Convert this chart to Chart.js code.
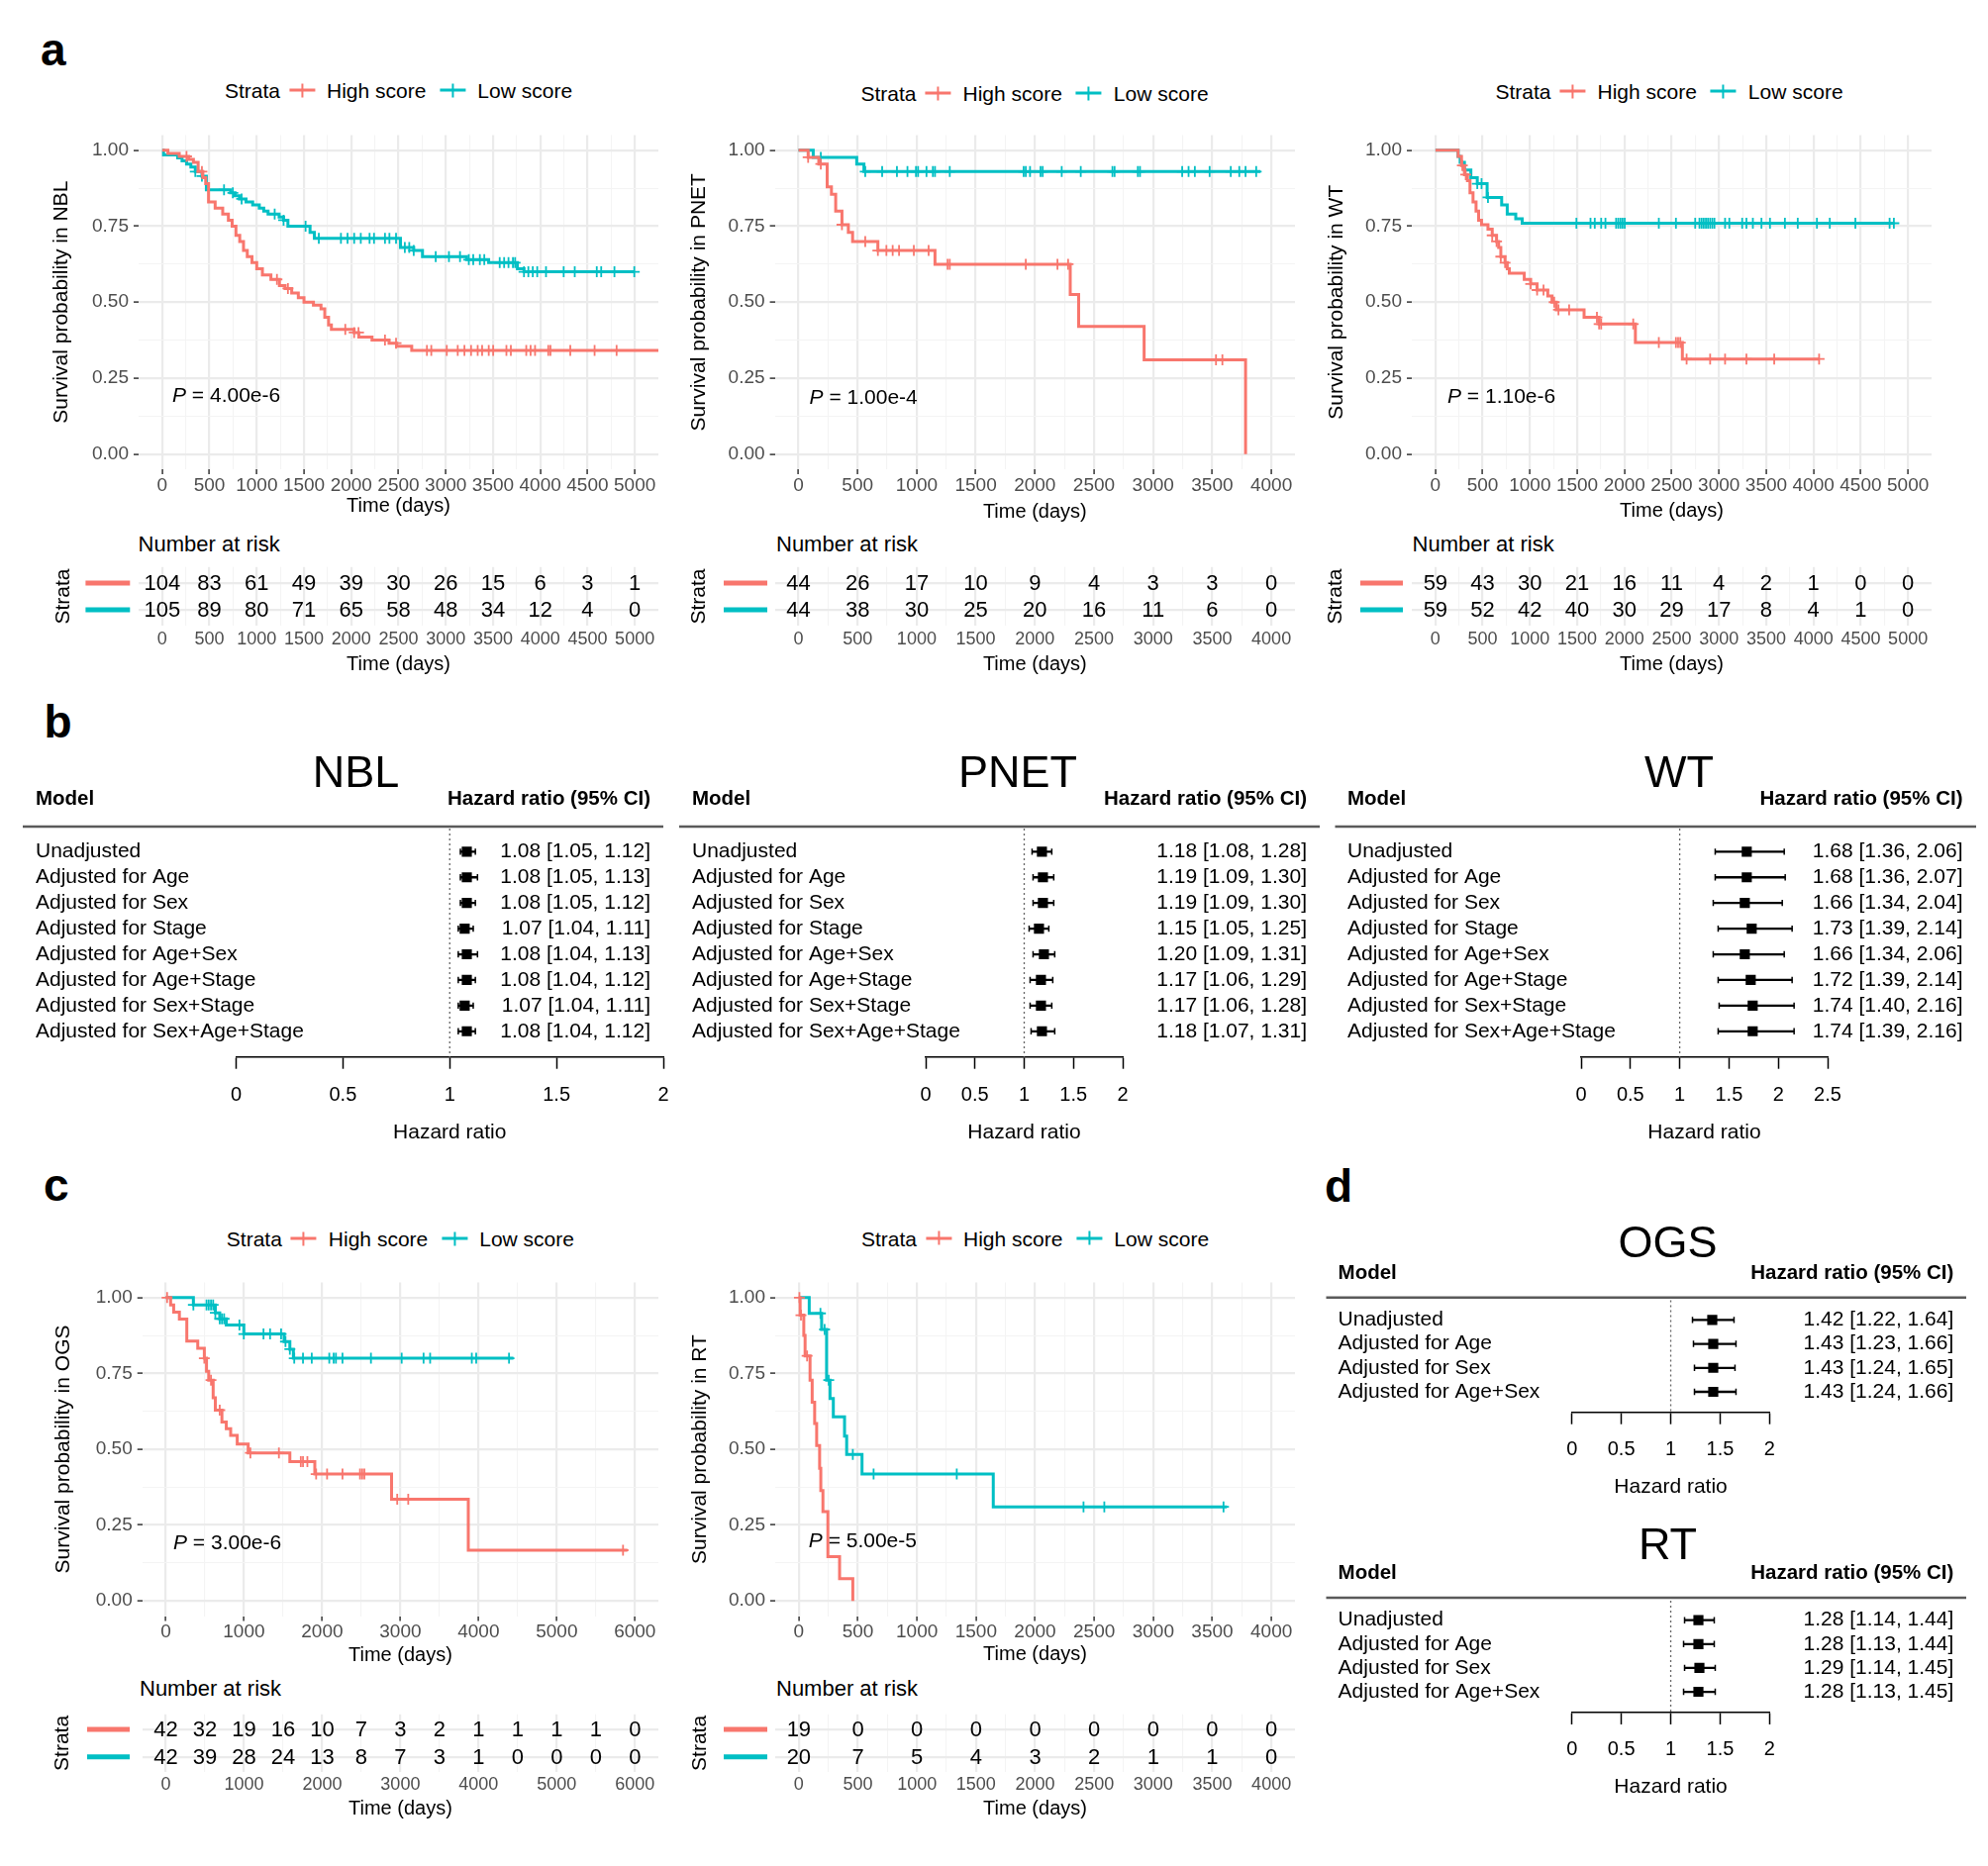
<!DOCTYPE html>
<html>
<head>
<meta charset="utf-8">
<script src="https://cdn.jsdelivr.net/npm/chart.js@4.4.1/dist/chart.umd.min.js"></script>
<style>
  html, body { margin: 0; padding: 0; background: #fff; }
  body { width: 2008px; height: 1885px; position: relative; overflow: hidden;
         font-family: "Liberation Sans", Arial, Helvetica, sans-serif; color: #000; }
  .box { position: absolute; }
  .box canvas { display: block; }
  .txt { position: absolute; white-space: nowrap; line-height: 1; transform: translateY(-50%); }
  .letter { position: absolute; font-weight: bold; font-size: 46px; line-height: 46px; }
  .legend { position: absolute; display: flex; align-items: center; white-space: nowrap;
            transform: translate(-50%, -50%); font-size: 21px; line-height: 1; }
  .key { display: inline-block; width: 26px; height: 14px; position: relative; margin: 0 12px 0 9px; }
  .key.k2 { margin-left: 14px; }
  .key::before { content: ''; position: absolute; left: 0; right: 0; top: 5.5px; height: 3px; background: var(--c); }
  .key::after { content: ''; position: absolute; left: 12px; width: 2px; top: 0; bottom: 0; background: var(--c); }
</style>
</head>
<body>
<script>
// ── Data ──────────────────────────────────────────────────────────────
const strataNames = ['High score', 'Low score'];
const HIGH = '#F8766D', LOW = '#00BFC4';
const FONT = '"Liberation Sans", Arial, Helvetica, sans-serif';

const survTicks = [0, 0.25, 0.5, 0.75, 1];

// NBL
const nblTimes     = [0, 500, 1000, 1500, 2000, 2500, 3000, 3500, 4000, 4500, 5000];
const nblRiskHigh  = [104, 83, 61, 49, 39, 30, 26, 15, 6, 3, 1];
const nblRiskLow   = [105, 89, 80, 71, 65, 58, 48, 34, 12, 4, 0];
const nblHighT = [0, 60, 180, 280, 330, 380, 430, 460, 490, 560, 640, 700, 740, 780, 820, 860, 900, 950, 1000, 1060, 1150, 1240, 1300, 1370, 1440, 1500, 1600, 1680, 1720, 1760, 1790, 2030, 2080, 2220, 2400, 2480, 2640, 5300];
const nblHighS = [1.00, 0.99, 0.98, 0.97, 0.96, 0.93, 0.91, 0.89, 0.83, 0.81, 0.79, 0.77, 0.75, 0.72, 0.70, 0.67, 0.65, 0.63, 0.61, 0.59, 0.575, 0.555, 0.545, 0.53, 0.515, 0.50, 0.49, 0.478, 0.45, 0.425, 0.41, 0.40, 0.385, 0.375, 0.365, 0.355, 0.341, 0.341];
const nblHighCens = [257, 420, 1214, 1330, 1937, 2031, 2077, 2357, 2474, 2801, 2847, 3011, 3127, 3198, 3268, 3338, 3385, 3455, 3502, 3642, 3689, 3852, 3898, 3945, 4085, 4108, 4318, 4575, 4808];
const nblLowT = [0, 14, 163, 210, 257, 303, 350, 420, 467, 723, 770, 817, 887, 957, 1027, 1074, 1120, 1237, 1284, 1330, 1564, 1610, 2521, 2661, 2754, 3221, 3454, 3758, 3828, 4995];
const nblLowS = [1.00, 0.985, 0.975, 0.965, 0.955, 0.945, 0.93, 0.915, 0.87, 0.86, 0.85, 0.84, 0.83, 0.82, 0.81, 0.80, 0.79, 0.78, 0.77, 0.75, 0.73, 0.71, 0.68, 0.67, 0.65, 0.64, 0.63, 0.61, 0.60, 0.60];
const nblLowCens = [350, 420, 654, 747, 840, 1190, 1284, 1517, 1657, 1891, 1961, 2031, 2101, 2194, 2241, 2357, 2404, 2474, 2567, 2614, 2661, 2894, 3034, 3151, 3244, 3291, 3361, 3408, 3571, 3618, 3664, 3711, 3734, 3828, 3874, 3921, 3968, 4061, 4248, 4365, 4598, 4645, 4785, 4995];

// PNET
const pnetTimes    = [0, 500, 1000, 1500, 2000, 2500, 3000, 3500, 4000];
const pnetRiskHigh = [44, 26, 17, 10, 9, 4, 3, 3, 0];
const pnetRiskLow  = [44, 38, 30, 25, 20, 16, 11, 6, 0];
const pnetHighT = [0, 82, 172, 243, 279, 315, 368, 422, 458, 672, 1155, 2299, 2370, 2924, 3782];
const pnetHighS = [1.00, 0.977, 0.955, 0.88, 0.855, 0.80, 0.755, 0.73, 0.70, 0.67, 0.625, 0.525, 0.42, 0.31, 0.00];
const pnetHighCens = [82, 189, 368, 565, 672, 744, 797, 851, 976, 1101, 1262, 1280, 1923, 2191, 2281, 3532, 3586];
const pnetLowT = [0, 125, 493, 554, 3908];
const pnetLowS = [1.00, 0.977, 0.955, 0.93, 0.93];
const pnetLowCens = [189, 565, 708, 833, 922, 994, 1012, 1083, 1137, 1155, 1280, 1905, 1923, 1959, 2048, 2066, 2227, 2388, 2656, 2674, 2871, 2889, 3246, 3300, 3353, 3478, 3657, 3729, 3782, 3872];

// WT
const wtTimes    = [0, 500, 1000, 1500, 2000, 2500, 3000, 3500, 4000, 4500, 5000];
const wtRiskHigh = [59, 43, 30, 21, 16, 11, 4, 2, 1, 0, 0];
const wtRiskLow  = [59, 52, 42, 40, 30, 29, 17, 8, 4, 1, 0];
const wtHighT = [0, 240, 276, 307, 339, 366, 398, 430, 457, 488, 556, 601, 647, 669, 692, 737, 760, 782, 940, 1008, 1076, 1189, 1234, 1279, 1573, 1732, 2116, 2613, 4060];
const wtHighS = [1.00, 0.98, 0.95, 0.92, 0.90, 0.86, 0.83, 0.80, 0.77, 0.755, 0.74, 0.72, 0.70, 0.68, 0.65, 0.63, 0.61, 0.595, 0.575, 0.56, 0.54, 0.52, 0.50, 0.475, 0.45, 0.428, 0.367, 0.313, 0.313];
const wtHighCens = [285, 321, 601, 647, 692, 737, 1008, 1076, 1144, 1257, 1302, 1415, 1709, 1732, 1754, 2093, 2364, 2545, 2568, 2591, 2658, 2907, 3065, 3291, 3585, 4060];
const wtLowT = [0, 240, 262, 307, 375, 443, 547, 701, 760, 850, 918, 4851];
const wtLowS = [1.00, 0.98, 0.96, 0.935, 0.91, 0.89, 0.845, 0.82, 0.79, 0.775, 0.76, 0.76];
const wtLowCens = [443, 488, 556, 1492, 1641, 1686, 1754, 1799, 1912, 1935, 1958, 1980, 2003, 2364, 2545, 2749, 2794, 2817, 2839, 2862, 2884, 2907, 2930, 2952, 3065, 3110, 3246, 3291, 3359, 3450, 3540, 3698, 3834, 4037, 4173, 4444, 4806, 4851];

// OGS
const ogsTicks    = [0, 1000, 2000, 3000, 4000, 5000, 6000];
const ogsTimes    = [0, 500, 1000, 1500, 2000, 2500, 3000, 3500, 4000, 4500, 5000, 5500, 6000];
const ogsRiskHigh = [42, 32, 19, 16, 10, 7, 3, 2, 1, 1, 1, 1, 0];
const ogsRiskLow  = [42, 39, 28, 24, 13, 8, 7, 3, 1, 0, 0, 0, 0];
const ogsHighT = [0, 62, 101, 174, 269, 409, 493, 521, 549, 606, 634, 718, 774, 830, 914, 1054, 1587, 1906, 2888, 3869, 5904];
const ogsHighS = [1.00, 0.976, 0.952, 0.929, 0.857, 0.833, 0.80, 0.757, 0.728, 0.67, 0.629, 0.59, 0.568, 0.546, 0.517, 0.488, 0.459, 0.418, 0.335, 0.167, 0.167];
const ogsHighCens = [17, 493, 578, 690, 1082, 1447, 1727, 1755, 1811, 1923, 2063, 2260, 2484, 2512, 2540, 2960, 3101, 5848];
const ogsLowT = [0, 353, 634, 690, 774, 998, 1514, 1587, 1632, 4446];
const ogsLowS = [1.00, 0.976, 0.95, 0.93, 0.91, 0.88, 0.855, 0.83, 0.80, 0.80];
const ogsLowCens = [353, 521, 549, 578, 606, 634, 690, 718, 746, 942, 998, 1250, 1334, 1475, 1531, 1587, 1643, 1755, 1867, 2091, 2147, 2176, 2260, 2624, 3017, 3297, 3381, 3914, 3970, 4390];

// RT
const rtTimes    = [0, 500, 1000, 1500, 2000, 2500, 3000, 3500, 4000];
const rtRiskHigh = [19, 0, 0, 0, 0, 0, 0, 0, 0];
const rtRiskLow  = [20, 7, 5, 4, 3, 2, 1, 1, 0];
const rtHighT = [0, 11, 42, 53, 95, 113, 134, 151, 176, 186, 204, 246, 345, 457];
const rtHighS = [1.00, 0.942, 0.875, 0.808, 0.728, 0.655, 0.585, 0.512, 0.437, 0.364, 0.294, 0.146, 0.073, 0.00];
const rtHighCens = [5, 18, 70];
const rtLowT = [0, 88, 193, 235, 264, 292, 387, 405, 535, 1646, 3624];
const rtLowS = [1.00, 0.948, 0.895, 0.728, 0.667, 0.607, 0.543, 0.483, 0.418, 0.31, 0.31];
const rtLowCens = [183, 218, 253, 457, 633, 1337, 2410, 2586, 3595];

// Forest plots
const models8 = ['Unadjusted', 'Adjusted for Age', 'Adjusted for Sex', 'Adjusted for Stage', 'Adjusted for Age+Sex', 'Adjusted for Age+Stage', 'Adjusted for Sex+Stage', 'Adjusted for Sex+Age+Stage'];
const models4 = ['Unadjusted', 'Adjusted for Age', 'Adjusted for Sex', 'Adjusted for Age+Sex'];
const hrTicks2  = [0, 0.5, 1, 1.5, 2];
const hrTicks25 = [0, 0.5, 1, 1.5, 2, 2.5];
const nblHR  = [1.08, 1.08, 1.08, 1.07, 1.08, 1.08, 1.07, 1.08];
const nblLo  = [1.05, 1.05, 1.05, 1.04, 1.04, 1.04, 1.04, 1.04];
const nblHi  = [1.12, 1.13, 1.12, 1.11, 1.13, 1.12, 1.11, 1.12];
const pnetHR = [1.18, 1.19, 1.19, 1.15, 1.20, 1.17, 1.17, 1.18];
const pnetLo = [1.08, 1.09, 1.09, 1.05, 1.09, 1.06, 1.06, 1.07];
const pnetHi = [1.28, 1.30, 1.30, 1.25, 1.31, 1.29, 1.28, 1.31];
const wtHR   = [1.68, 1.68, 1.66, 1.73, 1.66, 1.72, 1.74, 1.74];
const wtLo   = [1.36, 1.36, 1.34, 1.39, 1.34, 1.39, 1.40, 1.39];
const wtHi   = [2.06, 2.07, 2.04, 2.14, 2.06, 2.14, 2.16, 2.16];
const ogsHR  = [1.42, 1.43, 1.43, 1.43];
const ogsLo  = [1.22, 1.23, 1.24, 1.24];
const ogsHi  = [1.64, 1.66, 1.65, 1.66];
const rtHR   = [1.28, 1.28, 1.29, 1.28];
const rtLo   = [1.14, 1.13, 1.14, 1.13];
const rtHi   = [1.44, 1.44, 1.45, 1.45];
const REF_HR = 1;

// ── Helpers ───────────────────────────────────────────────────────────
function survAt(times, surv, t) {
    let v = surv[0];
    for (let i = 0; i < times.length; i++) if (times[i] <= t) v = surv[i];
    return v;
}
// major breaks plus the ggplot-style minor break between each pair
function withMinor(major) {
    const out = [];
    major.forEach((v, i) => {
        out.push({ value: v, isMajor: true });
        if (i < major.length - 1) out.push({ value: (v + major[i + 1]) / 2, isMajor: false });
    });
    return out;
}
const isMajor = c => !!(c.tick && c.tick.isMajor);

function makeCanvas(L, T, W, H) {
    const d = document.createElement('div');
    d.className = 'box';
    d.style.cssText = `left:${L}px;top:${T}px;width:${W}px;height:${H}px`;
    const c = document.createElement('canvas');
    c.width = W; c.height = H;
    c.style.width = W + 'px'; c.style.height = H + 'px';
    d.appendChild(c);
    document.body.appendChild(d);
    return c;
}
function addText(html, x, y, size, extra) {
    const d = document.createElement('div');
    d.className = 'txt';
    d.innerHTML = html;
    d.style.left = x + 'px'; d.style.top = y + 'px'; d.style.fontSize = size + 'px';
    if (extra) Object.assign(d.style, extra);
    document.body.appendChild(d);
}
function addLetter(ch, x, y) {
    const d = document.createElement('div');
    d.className = 'letter';
    d.textContent = ch;
    d.style.left = x + 'px'; d.style.top = y + 'px';
    document.body.appendChild(d);
}
function addLegend(cx, cy) {
    const d = document.createElement('div');
    d.className = 'legend';
    d.style.left = cx + 'px'; d.style.top = cy + 'px';
    d.innerHTML = 'Strata<span class="key" style="--c:' + HIGH + '"></span>' + strataNames[0] +
                  '<span class="key k2" style="--c:' + LOW + '"></span>' + strataNames[1];
    document.body.appendChild(d);
}

Chart.defaults.font.family = FONT;
Chart.defaults.color = '#000';

const kmGrid = {
    color: c => isMajor(c) ? '#EBEBEB' : '#F4F4F4',
    lineWidth: c => isMajor(c) ? 2.2 : 1.1,
    tickLength: 5,
    tickWidth: 1.5,
    tickColor: c => isMajor(c) ? '#333333' : 'rgba(0,0,0,0)'
};

// ── Kaplan–Meier panel ────────────────────────────────────────────────
function kmChart(k) {
    const [L, T, W, H] = k.box;
    const [pl, pt, pr, pb] = k.panel;
    const canvas = makeCanvas(L, T, W, H);
    const datasets = [];
    k.curves.forEach(cv => {
        datasets.push({
            data: cv.t.map((t, i) => ({ x: t, y: cv.s[i] })),
            showLine: true, stepped: true,
            borderColor: cv.color, borderWidth: 3, pointRadius: 0
        });
        datasets.push({
            data: cv.cens.map(t => ({ x: t, y: survAt(cv.t, cv.s, t) })),
            showLine: false, pointStyle: 'cross', pointRadius: 5.5,
            pointBorderWidth: 1.8, pointBorderColor: cv.color, pointBackgroundColor: cv.color
        });
    });
    new Chart(canvas, {
        type: 'scatter',
        data: { datasets },
        options: {
            responsive: false, animation: false, events: [],
            layout: { padding: { left: 0, top: pt - T, right: L + W - pr, bottom: 0 } },
            plugins: { legend: { display: false }, tooltip: { enabled: false } },
            scales: {
                x: {
                    type: 'linear', min: k.xMin, max: k.xMax, offset: false,
                    afterBuildTicks: s => { s.ticks = withMinor(k.xTicks); },
                    afterFit: s => { s.height = T + H - pb; },
                    grid: kmGrid,
                    border: { display: false },
                    ticks: { autoSkip: false, maxRotation: 0, padding: 0, color: '#4D4D4D', font: { size: 19 },
                             callback: (v, i, ts) => ts[i].isMajor ? String(v) : '' },
                    title: { display: true, text: 'Time (days)', font: { size: 20 }, color: '#000',
                             padding: { top: 0, bottom: k.xTitlePad } }
                },
                y: {
                    type: 'linear', min: -0.05, max: 1.05, offset: false,
                    afterBuildTicks: s => { s.ticks = withMinor(survTicks); },
                    afterFit: s => { s.width = pl - L; },
                    grid: kmGrid,
                    border: { display: false },
                    ticks: { autoSkip: false, padding: 5, color: '#4D4D4D', font: { size: 19 },
                             callback: (v, i, ts) => ts[i].isMajor ? v.toFixed(2) : '' },
                    title: { display: true, text: k.yTitle, font: { size: 21 }, color: '#000',
                             padding: { top: k.yTitlePad, bottom: 0 } }
                }
            }
        }
    });
}

// ── Number-at-risk table ──────────────────────────────────────────────
function riskChart(r) {
    const [L, T, W, H] = r.box;
    const [al, at, ar, ab] = r.area;
    const canvas = makeCanvas(L, T, W, H);
    const rowColors = [HIGH, LOW];
    const riskText = {
        id: 'riskText',
        afterDraw(chart) {
            const { ctx, scales: { x, y } } = chart;
            ctx.save();
            ctx.font = '22px ' + FONT;
            ctx.textAlign = 'center';
            ctx.textBaseline = 'middle';
            ctx.fillStyle = '#000';
            r.rows.forEach((row, ri) => {
                const py = y.getPixelForValue(ri + 1);
                row.forEach((n, i) => ctx.fillText(String(n), x.getPixelForValue(r.times[i]), py + 1));
                ctx.strokeStyle = rowColors[ri];
                ctx.lineWidth = 5;
                ctx.beginPath();
                ctx.moveTo(r.keyX[0] - L, py);
                ctx.lineTo(r.keyX[1] - L, py);
                ctx.stroke();
            });
            ctx.restore();
        }
    };
    new Chart(canvas, {
        type: 'scatter',
        data: { datasets: [] },
        plugins: [riskText],
        options: {
            responsive: false, animation: false, events: [],
            layout: { padding: { left: 0, top: at - T, right: L + W - ar, bottom: 0 } },
            plugins: { legend: { display: false }, tooltip: { enabled: false } },
            scales: {
                x: {
                    type: 'linear', min: r.xMin, max: r.xMax, offset: false,
                    afterBuildTicks: s => { s.ticks = withMinor(r.xTicks); },
                    afterFit: s => { s.height = T + H - ab; },
                    grid: { color: c => isMajor(c) ? '#EBEBEB' : '#F4F4F4', lineWidth: c => isMajor(c) ? 2.2 : 1.1, drawTicks: false },
                    border: { display: false },
                    ticks: { autoSkip: false, maxRotation: 0, padding: r.tickPad, color: '#4D4D4D', font: { size: 18 },
                             callback: (v, i, ts) => ts[i].isMajor ? String(v) : '' },
                    title: { display: true, text: 'Time (days)', font: { size: 20 }, color: '#000',
                             padding: { top: 0, bottom: r.xTitlePad } }
                },
                y: {
                    type: 'linear', min: r.yMin, max: r.yMax, reverse: true, offset: false,
                    afterBuildTicks: s => { s.ticks = [{ value: 1 }, { value: 2 }]; },
                    afterFit: s => { s.width = al - L; },
                    grid: { color: '#EBEBEB', lineWidth: 2.2, drawTicks: false },
                    border: { display: false },
                    ticks: { display: false },
                    title: { display: true, text: 'Strata', font: { size: 21 }, color: '#000',
                             padding: { top: r.yTitlePad, bottom: 0 } }
                }
            }
        }
    });
}

// ── Forest plot ───────────────────────────────────────────────────────
function forestChart(f) {
    const [L, T, W, H] = f.box;
    const [al, at, ar, ab] = f.area;
    const canvas = makeCanvas(L, T, W, H);
    const rows = f.models.map((m, i) => i + 1);
    const ciText = i => f.hr[i].toFixed(2) + ' [' + f.lo[i].toFixed(2) + ', ' + f.hi[i].toFixed(2) + ']';
    const forestText = {
        id: 'forestText',
        beforeDatasetsDraw(chart) {
            const { ctx, chartArea, scales: { x } } = chart;
            const px = x.getPixelForValue(REF_HR);
            ctx.save();
            ctx.setLineDash([2, 3]);
            ctx.strokeStyle = '#666';
            ctx.lineWidth = 1.3;
            ctx.beginPath();
            ctx.moveTo(px, chartArea.top);
            ctx.lineTo(px, chartArea.bottom);
            ctx.stroke();
            ctx.restore();
        },
        afterDraw(chart) {
            const { ctx, scales: { y } } = chart;
            ctx.save();
            ctx.fillStyle = '#000';
            ctx.textBaseline = 'middle';
            ctx.font = '21px ' + FONT;
            f.models.forEach((m, i) => {
                const py = y.getPixelForValue(rows[i]);
                ctx.textAlign = 'left';
                ctx.fillText(m, f.labelX - L, py);
                ctx.textAlign = 'right';
                ctx.fillText(ciText(i), f.textRight - L, py);
            });
            ctx.font = 'bold 20.5px ' + FONT;
            ctx.textAlign = 'left';
            ctx.fillText('Model', f.labelX - L, f.headY - T);
            ctx.textAlign = 'right';
            ctx.fillText('Hazard ratio (95% CI)', f.textRight - L, f.headY - T);
            ctx.font = '45px ' + FONT;
            ctx.textAlign = 'center';
            ctx.fillText(f.title, f.titleX - L, f.titleY - T);
            ctx.strokeStyle = '#5a5a5a';
            ctx.lineWidth = 2.5;
            ctx.beginPath();
            ctx.moveTo(f.rule[0] - L, f.rule[2] - T);
            ctx.lineTo(f.rule[1] - L, f.rule[2] - T);
            ctx.stroke();
            ctx.restore();
        }
    };
    new Chart(canvas, {
        type: 'scatter',
        data: {
            datasets: [
                { data: rows.map((r, i) => ({ x: f.hr[i], y: r })),
                  pointStyle: 'rect', pointRadius: 7.2, pointBackgroundColor: '#000', pointBorderWidth: 0 },
                { data: rows.map((r, i) => ({ x: f.lo[i], y: r })).concat(rows.map((r, i) => ({ x: f.hi[i], y: r }))),
                  pointStyle: 'line', pointRotation: 90, pointRadius: 3.2, pointBorderWidth: 1.5, pointBorderColor: '#000' },
                { type: 'bar', indexAxis: 'y', data: rows.map((r, i) => ({ y: r, x: [f.lo[i], f.hi[i]] })),
                  backgroundColor: '#000', barThickness: 1.6, borderWidth: 0 }
            ]
        },
        plugins: [forestText],
        options: {
            responsive: false, animation: false, events: [],
            layout: { padding: { left: al - L, top: at - T, right: L + W - ar, bottom: 0 } },
            plugins: { legend: { display: false }, tooltip: { enabled: false } },
            scales: {
                x: {
                    type: 'linear', min: 0, max: f.ticks[f.ticks.length - 1], offset: false,
                    afterBuildTicks: s => { s.ticks = f.ticks.map(v => ({ value: v })); },
                    afterFit: s => { s.height = T + H - ab; },
                    grid: { offset: false, drawOnChartArea: false, drawTicks: true, tickLength: 12, tickWidth: 1.5, tickColor: '#000' },
                    border: { display: true, color: '#000', width: 1.5 },
                    ticks: { autoSkip: false, maxRotation: 0, padding: f.tickPad, color: '#000', font: { size: 20 },
                             callback: v => String(v) },
                    title: { display: true, text: 'Hazard ratio', font: { size: 21 }, color: '#000',
                             padding: { top: 0, bottom: f.titlePad } }
                },
                y: { type: 'linear', display: false, min: f.yMin, max: f.yMax, reverse: true,
                     offset: false, grid: { offset: false } }
            }
        }
    });
}

// ── Panel a ───────────────────────────────────────────────────────────
addLetter('a', 41, 27);
kmChart({ box: [30, 120, 650, 410], panel: [140, 136.5, 665, 474], xMin: -250, xMax: 5250, xTicks: nblTimes,
          yTitle: 'Survival probability in NBL', yTitlePad: 19.9, xTitlePad: 6.4,
          curves: [{ t: nblHighT, s: nblHighS, cens: nblHighCens, color: HIGH },
                   { t: nblLowT, s: nblLowS, cens: nblLowCens, color: LOW }] });
kmChart({ box: [680, 120, 650, 410], panel: [782.6, 136.5, 1308, 474], xMin: -200, xMax: 4200, xTicks: pnetTimes,
          yTitle: 'Survival probability in PNET', yTitlePad: 13.9, xTitlePad: 1,
          curves: [{ t: pnetHighT, s: pnetHighS, cens: pnetHighCens, color: HIGH },
                   { t: pnetLowT, s: pnetLowS, cens: pnetLowCens, color: LOW }] });
kmChart({ box: [1330, 120, 670, 410], panel: [1426, 136.5, 1951, 474], xMin: -250, xMax: 5250, xTicks: wtTimes,
          yTitle: 'Survival probability in WT', yTitlePad: 7.4, xTitlePad: 2,
          curves: [{ t: wtHighT, s: wtHighS, cens: wtHighCens, color: HIGH },
                   { t: wtLowT, s: wtLowS, cens: wtLowCens, color: LOW }] });
addLegend(402.5, 91);
addLegend(1045, 94);
addLegend(1686, 92);
addText('<i>P</i> = 4.00e-6', 174, 398, 21);
addText('<i>P</i> = 1.00e-4', 817.6, 400, 21);
addText('<i>P</i> = 1.10e-6', 1462, 399, 21);

addText('Number at risk', 139.6, 550, 22);
addText('Number at risk', 784, 550, 22);
addText('Number at risk', 1426.6, 550, 22);
riskChart({ box: [30, 562, 650, 125], area: [140, 572.8, 665, 632.2], xMin: -250, xMax: 5250, xTicks: nblTimes,
            times: nblTimes, rows: [nblRiskHigh, nblRiskLow], yMin: 0.4, yMax: 2.6,
            tickPad: 3, xTitlePad: 4, yTitlePad: 21.4, keyX: [86.4, 131.3] });
riskChart({ box: [680, 562, 650, 125], area: [782.6, 572.8, 1308, 632.2], xMin: -200, xMax: 4200, xTicks: pnetTimes,
            times: pnetTimes, rows: [pnetRiskHigh, pnetRiskLow], yMin: 0.4, yMax: 2.6,
            tickPad: 3, xTitlePad: 4, yTitlePad: 13.4, keyX: [731, 775] });
riskChart({ box: [1330, 562, 670, 125], area: [1426, 572.8, 1951, 632.2], xMin: -250, xMax: 5250, xTicks: wtTimes,
            times: wtTimes, rows: [wtRiskHigh, wtRiskLow], yMin: 0.4, yMax: 2.6,
            tickPad: 3, xTitlePad: 4, yTitlePad: 7.1, keyX: [1374, 1417] });

// ── Panel b ───────────────────────────────────────────────────────────
addLetter('b', 44.5, 705.6);
forestChart({ box: [15, 750, 680, 410], area: [238.5, 837, 670, 1067.7], ticks: hrTicks2, yMin: 0.1, yMax: 9.0,
              models: models8, hr: nblHR, lo: nblLo, hi: nblHi, labelX: 36, textRight: 657, headY: 807,
              title: 'NBL', titleX: 359.6, titleY: 783, rule: [23, 670, 835], tickPad: 14.3, titlePad: 3.4 });
forestChart({ box: [685, 750, 660, 410], area: [935, 837, 1134, 1067.7], ticks: hrTicks2, yMin: 0.1, yMax: 9.0,
              models: models8, hr: pnetHR, lo: pnetLo, hi: pnetHi, labelX: 699, textRight: 1320, headY: 807,
              title: 'PNET', titleX: 1028, titleY: 783, rule: [686, 1333, 835], tickPad: 14.3, titlePad: 3.4 });
forestChart({ box: [1345, 750, 660, 410], area: [1597, 837, 1846, 1067.7], ticks: hrTicks25, yMin: 0.1, yMax: 9.0,
              models: models8, hr: wtHR, lo: wtLo, hi: wtHi, labelX: 1361, textRight: 1982.5, headY: 807,
              title: 'WT', titleX: 1696, titleY: 783, rule: [1348.5, 1996, 835], tickPad: 14.3, titlePad: 3.4 });

// ── Panel c ───────────────────────────────────────────────────────────
addLetter('c', 44, 1174);
kmChart({ box: [30, 1275, 650, 410], panel: [143.75, 1295.5, 665, 1632.5], xMin: -300, xMax: 6300, xTicks: ogsTicks,
          yTitle: 'Survival probability in OGS', yTitlePad: 22.1, xTitlePad: 0.6,
          curves: [{ t: ogsHighT, s: ogsHighS, cens: ogsHighCens, color: HIGH },
                   { t: ogsLowT, s: ogsLowS, cens: ogsLowCens, color: LOW }] });
kmChart({ box: [680, 1275, 650, 410], panel: [783, 1295.5, 1308, 1632.5], xMin: -200, xMax: 4200, xTicks: rtTimes,
          yTitle: 'Survival probability in RT', yTitlePad: 14.4, xTitlePad: 1.5,
          curves: [{ t: rtHighT, s: rtHighS, cens: rtHighCens, color: HIGH },
                   { t: rtLowT, s: rtLowS, cens: rtLowCens, color: LOW }] });
addLegend(404.4, 1251.4);
addLegend(1045.5, 1250.7);
addText('<i>P</i> = 3.00e-6', 175, 1557, 21);
addText('<i>P</i> = 5.00e-5', 816.8, 1555, 21);

addText('Number at risk', 141, 1706, 22);
addText('Number at risk', 784, 1706, 22);
riskChart({ box: [30, 1722, 650, 125], area: [143.75, 1731.8, 665, 1790], xMin: -300, xMax: 6300, xTicks: ogsTicks,
            times: ogsTimes, rows: [ogsRiskHigh, ogsRiskLow], yMin: 0.45, yMax: 2.55,
            tickPad: 2.2, xTitlePad: 8, yTitlePad: 20.8, keyX: [88, 131] });
riskChart({ box: [680, 1722, 650, 125], area: [783, 1731.8, 1308, 1790], xMin: -200, xMax: 4200, xTicks: rtTimes,
            times: rtTimes, rows: [rtRiskHigh, rtRiskLow], yMin: 0.45, yMax: 2.55,
            tickPad: 2.2, xTitlePad: 8, yTitlePad: 14.4, keyX: [731, 775] });

// ── Panel d ───────────────────────────────────────────────────────────
addLetter('d', 1338, 1174.6);
forestChart({ box: [1335, 1225, 665, 295], area: [1587.7, 1313.5, 1787.4, 1426.7], ticks: hrTicks2, yMin: 0.18, yMax: 4.855,
              models: models4, hr: ogsHR, lo: ogsLo, hi: ogsHi, labelX: 1351.6, textRight: 1973.3, headY: 1286,
              title: 'OGS', titleX: 1684.5, titleY: 1258, rule: [1339.5, 1986, 1310.7], tickPad: 13.3, titlePad: 5.4 });
forestChart({ box: [1335, 1530, 665, 300], area: [1587.7, 1617, 1787.4, 1730], ticks: hrTicks2, yMin: 0.183, yMax: 4.87,
              models: models4, hr: rtHR, lo: rtLo, hi: rtHi, labelX: 1351.6, textRight: 1973.3, headY: 1589,
              title: 'RT', titleX: 1684.5, titleY: 1563, rule: [1339.5, 1986, 1614], tickPad: 13, titlePad: 12.4 });
</script>
</body>
</html>
